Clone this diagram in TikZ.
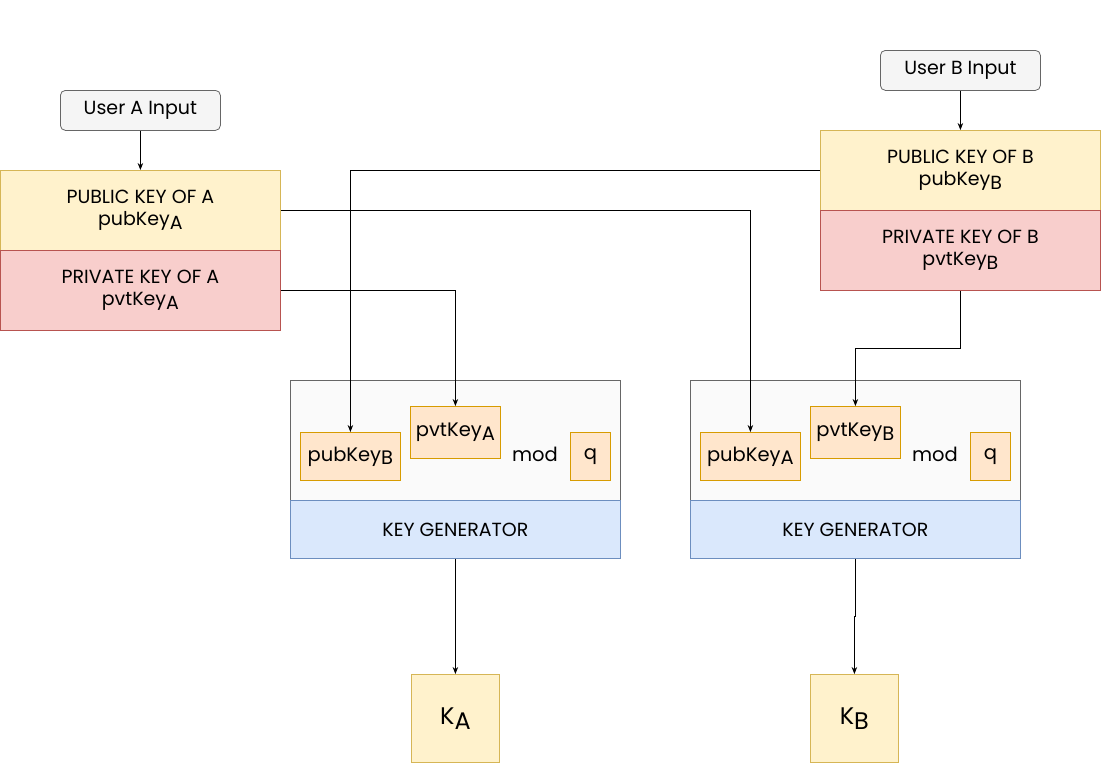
\documentclass[tikz,border=0pt]{standalone}
\usepackage{fontspec}
\setmainfont{Poppins}
\usetikzlibrary{arrows.meta}
\definecolor{inputfill}{HTML}{F5F5F5}
\definecolor{inputdraw}{HTML}{666666}
\definecolor{pubfill}{HTML}{FFF2CC}
\definecolor{pubdraw}{HTML}{D6B656}
\definecolor{pvtfill}{HTML}{F8CECC}
\definecolor{pvtdraw}{HTML}{B85450}
\definecolor{genfill}{HTML}{FAFAFA}
\definecolor{gendraw}{HTML}{666666}
\definecolor{kgfill}{HTML}{DAE8FC}
\definecolor{kgdraw}{HTML}{6C8EBF}
\definecolor{termfill}{HTML}{FFE6CC}
\definecolor{termdraw}{HTML}{D79B00}
\newcommand{\lowsub}[1]{\raisebox{-0.35ex}{#1}}
\tikzset{
  box/.style={draw, line width=0.8pt, inner sep=0pt, anchor=north west, align=center,
              font=\fontsize{19}{22}\selectfont},
  inputbox/.style={box, fill=inputfill, draw=inputdraw, rounded corners=5pt,
                   minimum width=160pt, minimum height=40pt},
  pubbox/.style={box, fill=pubfill, draw=pubdraw, minimum width=280pt, minimum height=80pt},
  pvtbox/.style={box, fill=pvtfill, draw=pvtdraw, minimum width=280pt, minimum height=80pt},
  genbox/.style={box, fill=genfill, draw=gendraw, minimum width=330pt, minimum height=120pt},
  kgbox/.style={box, fill=kgfill, draw=kgdraw, minimum width=330pt, minimum height=58pt},
  termbox/.style={box, fill=termfill, draw=termdraw, font=\fontsize{19.5}{23}\selectfont},
  keybox/.style={box, fill=pubfill, draw=pubdraw, minimum width=88pt, minimum height=88pt,
                 font=\fontsize{24}{28}\selectfont},
  plain/.style={inner sep=0pt, font=\fontsize{19.5}{23}\selectfont},
  link/.style={draw=black, line width=0.8pt, -{Stealth[length=7pt,width=5.5pt]}}
}
\begin{document}
\begin{tikzpicture}[x=1pt,y=-1pt]
\useasboundingbox (0,0) rectangle (1102,763);
\fill[white] (0,0) rectangle (1102,763);

% user A side
\node[inputbox] (inA) at (60,90) {User A Input};
\node[pubbox] (pubA) at (0,170) {PUBLIC KEY OF A\\pubKey\lowsub{A}};
\node[pvtbox] (pvtA) at (0,250) {PRIVATE KEY OF A\\pvtKey\lowsub{A}};

% user B side
\node[inputbox] (inB) at (880,50) {User B Input};
\node[pubbox] (pubB) at (820,130) {PUBLIC KEY OF B\\pubKey\lowsub{B}};
\node[pvtbox] (pvtB) at (820,210) {PRIVATE KEY OF B\\pvtKey\lowsub{B}};

% generator for A
\node[genbox] (genA) at (290,380) {};
\node[kgbox] (kgA) at (290,500) {KEY GENERATOR};
\node[termbox, minimum width=100pt, minimum height=48pt] (tpubA) at (300,432) {pubKey\lowsub{B}};
\node[termbox, minimum width=90pt, minimum height=52pt] (tpvtA) at (410,406) {pvtKey\lowsub{A}};
\node[plain] (modA) at (535,454) {mod};
\node[termbox, minimum width=40pt, minimum height=48pt] (tqA) at (570,432) {q};
\node[keybox] (kA) at (411,674) {K\lowsub{A}};

% generator for B
\node[genbox] (genB) at (690,380) {};
\node[kgbox] (kgB) at (690,500) {KEY GENERATOR};
\node[termbox, minimum width=100pt, minimum height=48pt] (tpubB) at (700,432) {pubKey\lowsub{A}};
\node[termbox, minimum width=90pt, minimum height=52pt] (tpvtB) at (810,406) {pvtKey\lowsub{B}};
\node[plain] (modB) at (935,454) {mod};
\node[termbox, minimum width=40pt, minimum height=48pt] (tqB) at (970,432) {q};
\node[keybox] (kB) at (810,674) {K\lowsub{B}};

% connectors
\draw[link] (inA.south) -- (pubA.north -| inA.south);
\draw[link] (inB.south) -- (pubB.north -| inB.south);
\draw[link] (pubB.west) -- (pubB.west -| tpubA.north) -- (tpubA.north);
\draw[link] (pubA.east) -- (pubA.east -| tpubB.north) -- (tpubB.north);
\draw[link] (pvtA.east) -- (pvtA.east -| tpvtA.north) -- (tpvtA.north);
\draw[link] (pvtB.south) -- ++(0,58) -| (tpvtB.north);
\draw[link] (kgA.south) -- (kA.north);
\draw[link] (kgB.south) -- ++(0,58) -| (kB.north);
\end{tikzpicture}
\end{document}
